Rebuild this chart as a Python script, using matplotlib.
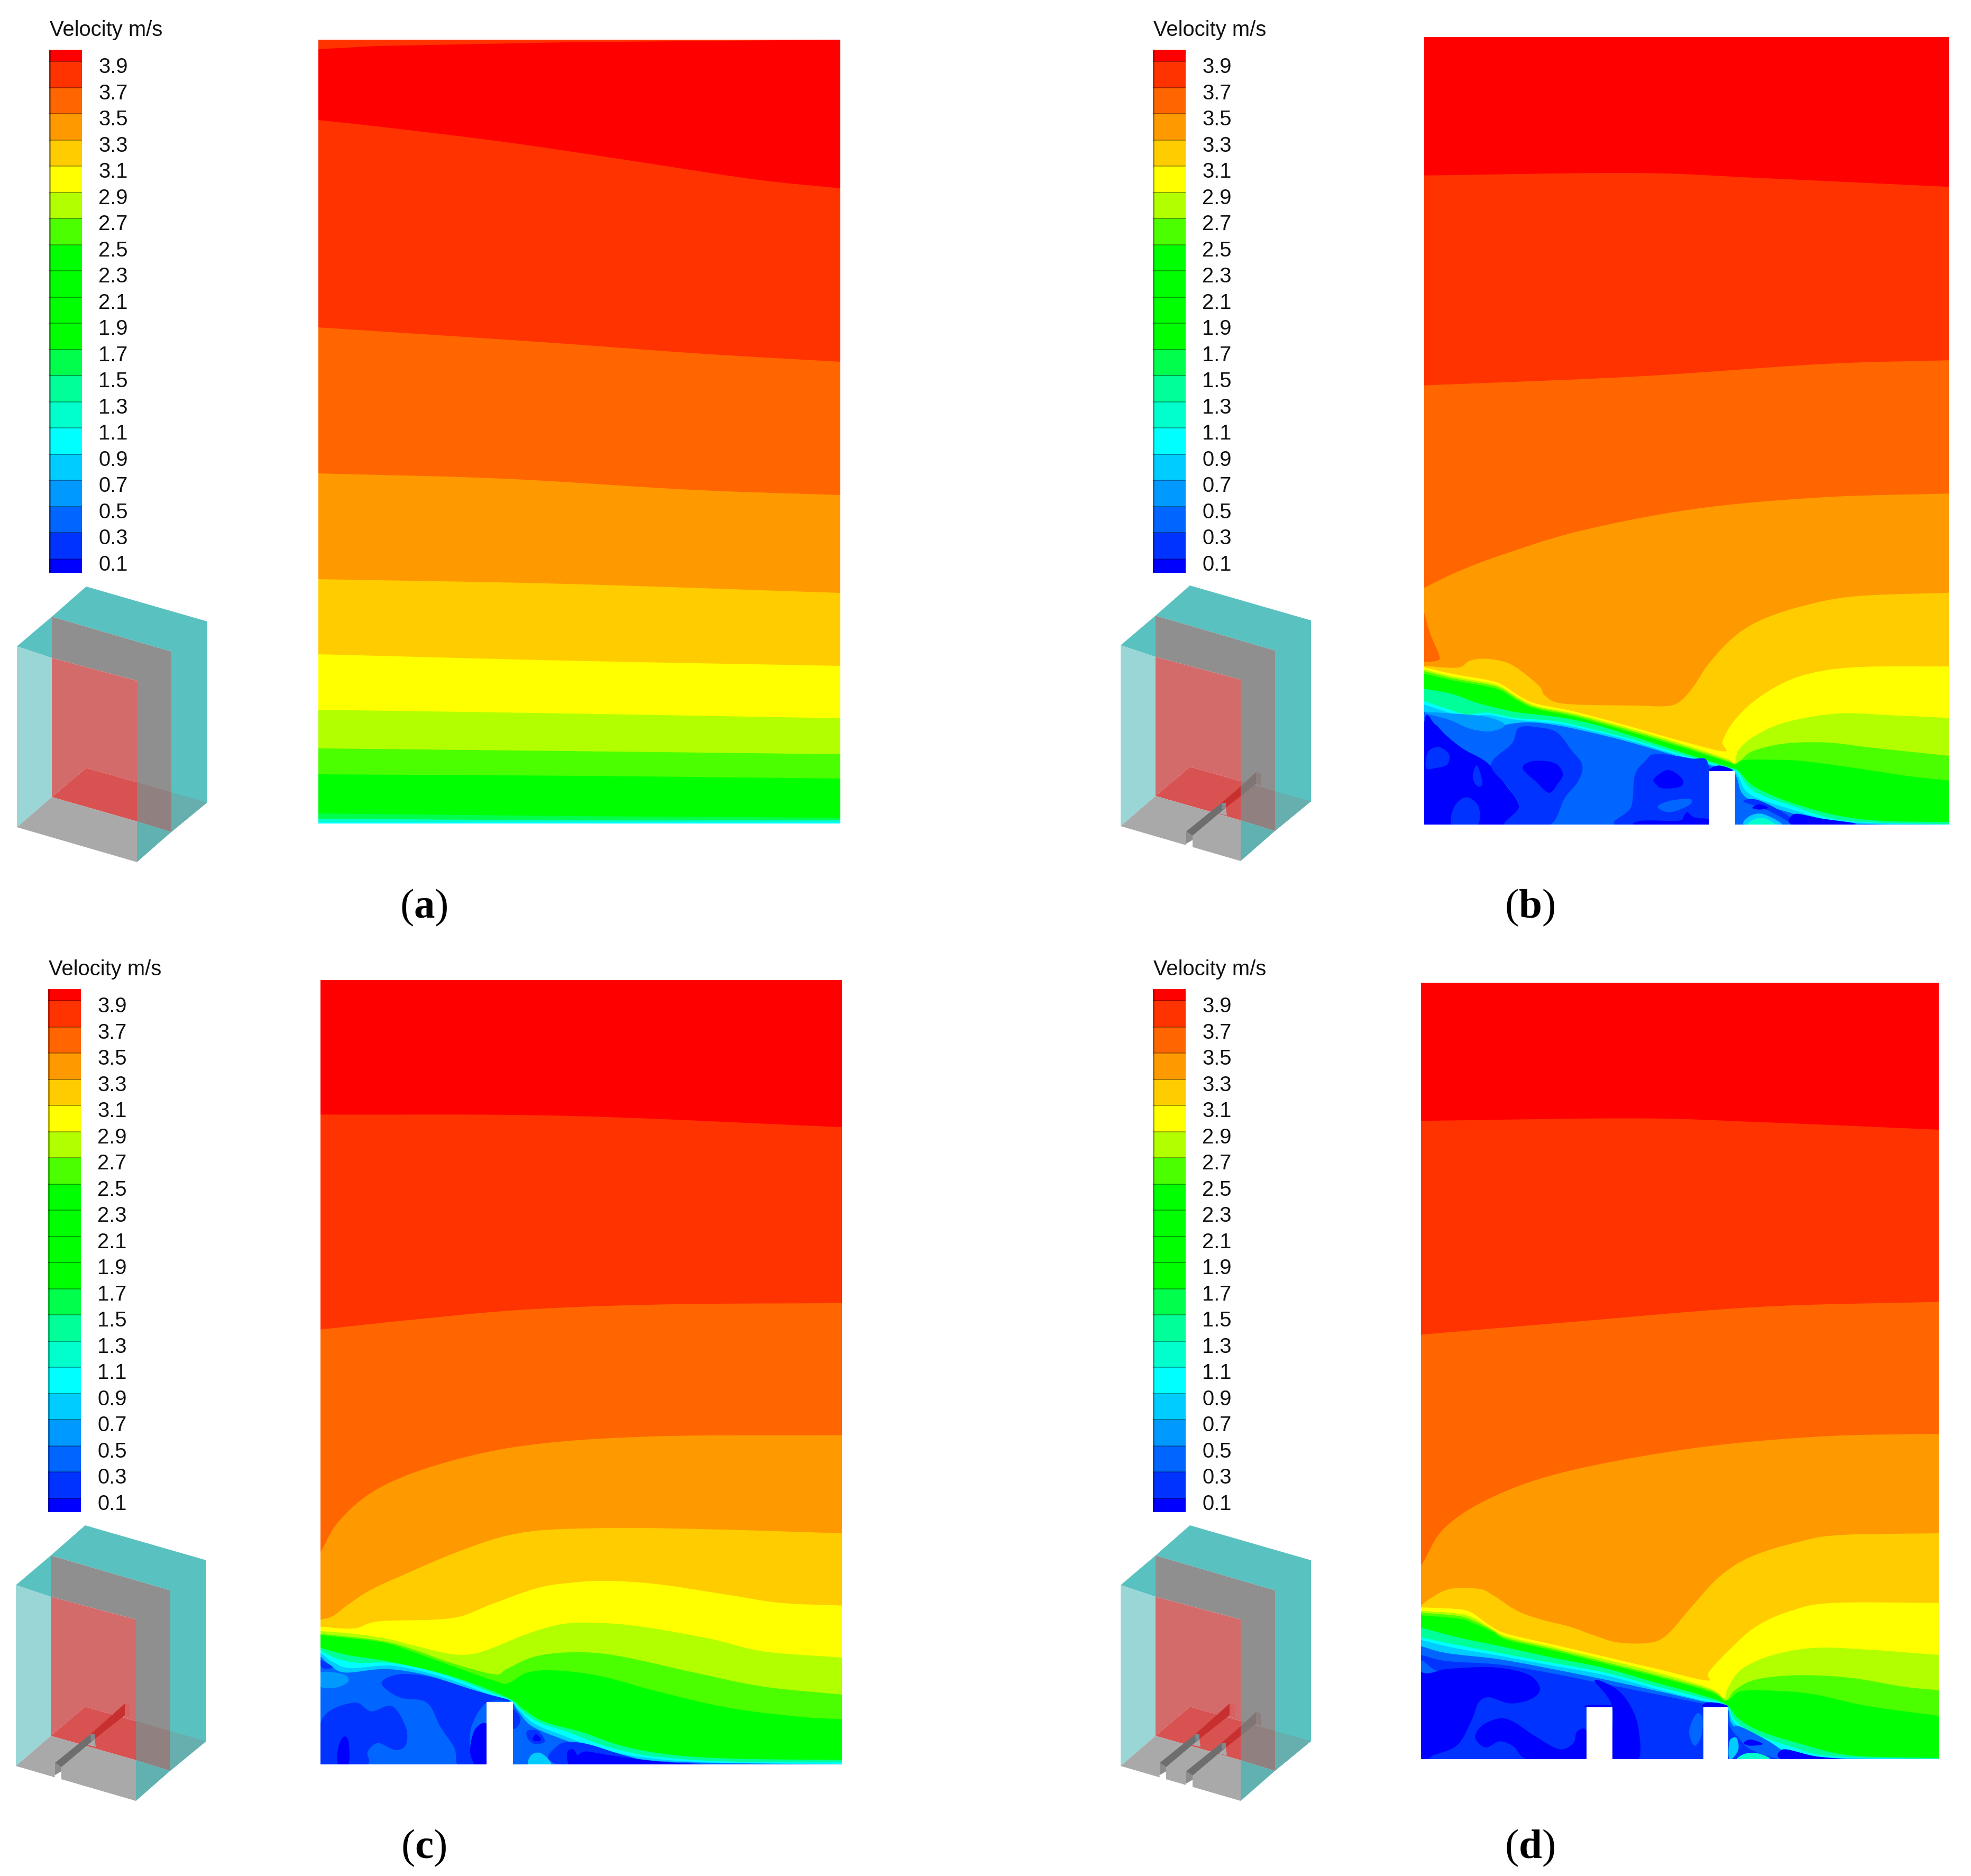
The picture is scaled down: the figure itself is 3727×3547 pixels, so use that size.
import numpy as np
import matplotlib
matplotlib.use("Agg")
import matplotlib.pyplot as plt
from matplotlib.patches import Rectangle

W, H = 3727, 3548
SHRINK = 3727 / 1568

plt.rcParams["font.family"] = ["Liberation Sans", "DejaVu Sans"]
plt.rcParams["mathtext.fontset"] = "custom"
plt.rcParams["mathtext.rm"] = "Liberation Serif"
plt.rcParams["mathtext.bf"] = "Liberation Serif:bold"

# legend
LEVELS = [3.9, 3.7, 3.5, 3.3, 3.1, 2.9, 2.7, 2.5, 2.3, 2.1, 1.9, 1.7, 1.5, 1.3, 1.1, 0.9, 0.7, 0.5, 0.3, 0.1]
V_TOP = 3.989
V_BOT = -0.007
BAND_COLORS = ["#FF0000", "#FF3300", "#FF6600", "#FF9900", "#FFCC00", "#FFFF00", "#B2FF00", "#4CFF00",
               "#00FF00", "#00FF00", "#00FF00", "#00FF00", "#00FF4C", "#00FF99", "#00FFCC", "#00FFFF",
               "#00CCFF", "#0099FF", "#0066FF", "#0033FF", "#0000FF"]

C39, C37, C35, C33, C31, C29, C27, C25 = BAND_COLORS[1:9]
C17, C15, C13, C11, C09, C07, C05, C03, C01 = BAND_COLORS[12:]

# panel (a): contour lines in full px
A_TOP = [(602, 76), (602, 94), (713, 88), (1070, 81), (1589, 76)]
A_39 = [(602, 228), (713, 240), (951, 269), (1188, 304), (1426, 340), (1589, 357)]
A_37 = [(602, 620), (832, 635), (1070, 651), (1331, 670), (1589, 685)]
A_35 = [(602, 896), (951, 906), (1307, 927), (1589, 937)]
A_33 = [(602, 1096), (1070, 1105), (1589, 1122)]
A_31 = [(602, 1238), (1070, 1250), (1589, 1260)]
A_29 = [(602, 1343), (1070, 1350), (1589, 1359)]
A_27 = [(602, 1416), (1070, 1421), (1589, 1427)]
A_25 = [(602, 1465), (1100, 1468), (1589, 1473)]
A_17 = [(602, 1539), (1100, 1544), (1589, 1547)]
A_13 = [(602, 1549), (1100, 1552), (1589, 1552)]
A_11 = [(602, 1555), (1589, 1555)]

# panel (b): upper lines in shrunk-picture px, lower lines in crop px
B_39 = [(1133, 140), (1300, 138), (1400, 142), (1550, 149)]
B_37 = [(1133, 307), (1300, 300), (1450, 290), (1550, 287)]
B_35 = [(1133, 468), (1160, 455), (1200, 440), (1260, 422), (1350, 405), (1450, 396), (1550, 393)]
B_LOBE = [(1133, 488), (1138, 505), (1145, 522), (1143, 526), (1133, 527)]
B_33 = [(20, 480), (115, 490), (150, 450), (200, 440), (260, 465), (310, 530), (350, 600), (365, 650), (420, 695),
        (620, 705), (710, 708), (750, 680), (790, 590), (830, 470), (900, 320), (980, 220), (1100, 140), (1250, 85), (1515, 65)]
B_31 = [(20, 488), (100, 525), (200, 560), (240, 585), (290, 650), (340, 695), (450, 740), (600, 820), (750, 905),
        (875, 965), (870, 910), (900, 800), (960, 680), (1050, 570), (1150, 510), (1280, 485), (1515, 483)]
B_29 = [(20, 500), (100, 540), (200, 575), (240, 600), (290, 662), (340, 708), (450, 752), (600, 832), (750, 920),
        (880, 1005), (905, 1030), (915, 960), (960, 880), (1050, 800), (1200, 750), (1350, 760), (1515, 775)]
B_27 = [(20, 510), (100, 550), (200, 585), (240, 610), (290, 672), (340, 716), (450, 760), (600, 842), (750, 930),
        (880, 1015), (905, 1035), (925, 1010), (960, 960), (1050, 920), (1170, 915), (1300, 945), (1515, 990)]
B_25 = [(20, 525), (100, 562), (200, 598), (240, 622), (290, 682), (340, 725), (450, 770), (600, 852), (750, 940),
        (880, 1022), (905, 1040), (930, 1015), (1000, 1012), (1100, 1020), (1250, 1060), (1400, 1105), (1515, 1130)]
B_17 = [(20, 610), (100, 640), (170, 690), (230, 720), (290, 745), (400, 770), (500, 810), (600, 870), (700, 935),
        (800, 1000), (890, 1055), (915, 1075), (950, 1150), (1000, 1205), (1080, 1265), (1200, 1330), (1330, 1360), (1515, 1365)]
B_11 = [(20, 680), (80, 720), (140, 755), (200, 745), (280, 775), (400, 795), (500, 840), (600, 890), (700, 950),
        (800, 1010), (890, 1062), (915, 1085), (945, 1170), (990, 1220), (1070, 1275), (1180, 1345), (1300, 1368), (1515, 1378)]
B_09 = [(20, 700), (90, 745), (140, 768), (200, 758), (280, 785), (400, 808), (500, 850), (600, 900), (700, 960),
        (800, 1020), (890, 1065), (912, 1095), (935, 1185), (975, 1235), (1060, 1290), (1170, 1352), (1300, 1372), (1515, 1380)]
B_07 = [(20, 740), (90, 780), (150, 835), (210, 850), (250, 815), (320, 800), (400, 818), (500, 860), (600, 910), (700, 968),
        (800, 1028), (890, 1072), (910, 1110), (925, 1200), (960, 1250), (1050, 1305), (1150, 1360), (1300, 1378), (1515, 1382)]
B_BLOBS = [
    ([(20, 745), (90, 785), (150, 835), (210, 850), (250, 815), (200, 770), (100, 750)], C07),
    ([(20, 800), (50, 810), (80, 870), (130, 950), (200, 1030), (250, 1150), (290, 1280), (250, 1385), (20, 1385)], C01),
    ([(25, 1060), (30, 970), (60, 940), (90, 980), (85, 1040), (50, 1060)], C03),
    ([(100, 1385), (105, 1280), (140, 1225), (175, 1280), (170, 1385)], C03),
    ([(158, 1100), (170, 1045), (185, 1130), (180, 1165), (165, 1150)], C03),
    ([(290, 830), (350, 830), (400, 860), (440, 960), (470, 1040), (460, 1130), (420, 1230), (375, 1385), (250, 1385),
      (290, 1280), (260, 1170), (210, 1040), (270, 920)], C03),
    ([(300, 1060), (330, 1020), (390, 1030), (415, 1090), (400, 1150), (375, 1200), (340, 1140)], C01),
    ([(680, 980), (780, 1005), (830, 1040), (830, 1385), (570, 1385), (610, 1280), (620, 1100), (650, 1020)], C03),
    ([(675, 1120), (715, 1070), (755, 1120), (750, 1165), (700, 1175), (680, 1150)], C01),
    ([(685, 1280), (720, 1245), (778, 1235), (775, 1270), (720, 1310)], C05),
    ([(630, 1385), (640, 1358), (745, 1358), (760, 1330), (770, 1310), (790, 1340), (830, 1350), (830, 1385)], C01),
    ([(832, 1070), (860, 1045), (900, 1072), (860, 1082)], C01),
    ([(930, 1250), (970, 1240), (1050, 1320), (1080, 1385), (1000, 1300)], C03),
    ([(955, 1285), (975, 1265), (1000, 1285), (975, 1295)], C01),
    ([(1075, 1320), (1150, 1345), (1250, 1378), (1075, 1385)], C01),
    ([(935, 1385), (945, 1335), (985, 1320), (1040, 1385)], C09),
    ([(945, 1385), (960, 1350), (990, 1345), (1020, 1385)], C13),
]
B_RIBS = [(832, 906)]
B_RIB_TOP = 1078

# panel (c)
C_39 = [(255, 887), (450, 888), (670, 897)]
C_37 = [(255, 1058), (330, 1050), (420, 1042), (530, 1038), (670, 1037)]
C_35 = [(255, 1235), (270, 1210), (300, 1185), (350, 1165), (420, 1150), (520, 1143), (670, 1142)]
C_33 = [(25, 490), (60, 470), (100, 410), (170, 320), (270, 230), (400, 120), (520, 35), (600, -2), (680, -20), (800, -28),
        (950, -30), (1200, -20), (1525, 0)]
C_31 = [(25, 530), (120, 540), (190, 500), (350, 490), (430, 470), (520, 400), (650, 310), (750, 280), (850, 270),
        (1000, 290), (1200, 350), (1350, 395), (1525, 410)]
C_29 = [(25, 555), (120, 570), (220, 600), (300, 640), (400, 685), (460, 685), (520, 650), (620, 570), (720, 515),
        (820, 508), (950, 530), (1150, 600), (1300, 670), (1525, 705)]
C_27 = [(25, 570), (200, 610), (300, 665), (400, 735), (525, 800), (560, 770), (640, 700), (750, 675), (880, 695),
        (1100, 790), (1300, 870), (1525, 915)]
C_25 = [(25, 578), (200, 618), (300, 680), (420, 765), (530, 840), (565, 850), (620, 790), (700, 778), (830, 810),
        (1000, 900), (1200, 990), (1400, 1040), (1525, 1055)]
C_17 = [(25, 650), (100, 690), (200, 720), (300, 760), (400, 810), (500, 880), (575, 945), (610, 1000), (670, 1070),
        (780, 1130), (900, 1210), (1050, 1260), (1250, 1280), (1525, 1285)]
C_11 = [(25, 665), (70, 710), (130, 735), (220, 735), (320, 770), (420, 830), (510, 900), (575, 950), (600, 1000),
        (650, 1070), (740, 1130), (850, 1210), (980, 1265), (1200, 1295), (1525, 1300)]
C_09 = [(25, 680), (60, 730), (110, 765), (220, 750), (320, 785), (420, 845), (500, 905), (570, 950), (595, 1000),
        (640, 1080), (720, 1145), (820, 1215), (950, 1270), (1150, 1300), (1525, 1308)]
C_07 = [(25, 700), (50, 745), (95, 790), (210, 770), (320, 800), (420, 860), (500, 915), (570, 955), (590, 1000),
        (630, 1090), (710, 1160), (810, 1225), (940, 1280), (1100, 1300), (1525, 1312)]
C_BLOBS = [
    ([(200, 850), (250, 800), (340, 815), (450, 880), (510, 915), (570, 950), (503, 960), (460, 1090), (455, 1230),
      (470, 1315), (420, 1315), (410, 1220), (370, 1100), (330, 960), (250, 930)], C03),
    ([(30, 1050), (120, 960), (170, 1010), (230, 980), (270, 1100), (270, 1200), (240, 1230), (190, 1190), (160, 1240),
      (155, 1315), (25, 1315)], C03),
    ([(75, 1315), (75, 1220), (90, 1155), (105, 1180), (105, 1315)], C01),
    ([(505, 1090), (470, 1110), (455, 1230), (470, 1315), (503, 1315)], C01),
    ([(25, 790), (90, 800), (105, 840), (70, 875), (25, 870)], C07),
    ([(25, 720), (60, 760), (30, 765)], C03),
    ([(578, 1000), (600, 1050), (590, 1100), (578, 1100)], C03),
    ([(620, 1120), (650, 1120), (670, 1180), (640, 1195), (620, 1160)], C03),
    ([(635, 1170), (645, 1140), (660, 1170), (645, 1180)], C01),
    ([(710, 1200), (780, 1190), (900, 1260), (1000, 1300), (1200, 1315), (720, 1315)], C03),
    ([(625, 1315), (630, 1260), (655, 1245), (680, 1280), (685, 1315)], C09),
    ([(740, 1315), (735, 1240), (755, 1230), (770, 1315)], C01),
    ([(780, 1240), (860, 1260), (1000, 1295), (1150, 1315), (790, 1315)], C01),
]
C_RIBS = [(503, 578)]
C_RIB_TOP = 958

# panel (d)
D_39 = [(1131, 892), (1300, 890), (1400, 893), (1542, 899)]
D_37 = [(1131, 1062), (1250, 1052), (1400, 1040), (1542, 1036)]
D_35 = [(1131, 1245), (1150, 1215), (1190, 1190), (1250, 1170), (1350, 1152), (1450, 1143), (1542, 1141)]
D_33 = [(25, 410), (60, 360), (110, 315), (190, 315), (230, 350), (300, 440), (370, 490), (450, 530), (520, 580),
        (590, 620), (680, 620), (730, 570), (800, 410), (880, 240), (970, 130), (1100, 50), (1220, 10), (1500, 0)]
D_31 = [(25, 420), (130, 430), (170, 450), (220, 520), (270, 570), (400, 630), (550, 700), (700, 770), (840, 835),
        (845, 790), (900, 670), (980, 530), (1080, 440), (1200, 395), (1500, 395)]
D_29 = [(25, 440), (130, 455), (175, 480), (225, 540), (270, 585), (400, 645), (550, 715), (700, 790), (850, 880),
        (890, 935), (900, 880), (940, 770), (1030, 690), (1150, 650), (1300, 660), (1500, 690)]
D_27 = [(25, 450), (135, 470), (180, 500), (230, 550), (270, 595), (400, 655), (550, 730), (700, 805), (850, 890),
        (895, 945), (920, 890), (980, 830), (1100, 805), (1250, 820), (1400, 870), (1500, 890)]
D_25 = [(25, 465), (135, 485), (180, 515), (230, 560), (270, 605), (400, 665), (550, 740), (700, 815), (850, 900),
        (895, 950), (940, 895), (1050, 895), (1150, 915), (1300, 980), (1500, 1035)]
D_17 = [(25, 535), (130, 590), (250, 640), (400, 705), (550, 765), (700, 850), (820, 915), (895, 970), (930, 1050),
        (990, 1120), (1100, 1190), (1250, 1260), (1500, 1275)]
D_11 = [(25, 590), (120, 630), (250, 680), (400, 735), (550, 790), (700, 870), (820, 930), (895, 975), (920, 1060),
        (970, 1130), (1080, 1210), (1200, 1265), (1500, 1280)]
D_09 = [(25, 605), (120, 650), (250, 695), (400, 750), (550, 805), (700, 885), (820, 945), (895, 980), (915, 1065),
        (960, 1140), (1060, 1225), (1180, 1270), (1500, 1282)]
D_07 = [(25, 640), (100, 680), (250, 715), (400, 770), (550, 830), (700, 895), (820, 950), (895, 985), (910, 1075),
        (950, 1150), (1040, 1240), (1150, 1275), (1300, 1282), (1500, 1284)]
D_05 = [(25, 690), (100, 725), (250, 745), (400, 795), (550, 855), (700, 915), (820, 962), (895, 988), (905, 1090),
        (940, 1170), (1030, 1250), (1150, 1280), (1500, 1290)]
D_BLOBS = [
    ([(25, 790), (60, 790), (100, 770), (230, 760), (330, 800), (365, 880), (340, 940), (280, 965), (220, 930),
      (190, 960), (170, 1060), (130, 1200), (60, 1260), (25, 1285)], C01),
    ([(180, 1160), (200, 1090), (250, 1050), (290, 1070), (350, 1150), (420, 1225), (460, 1190), (470, 1125), (497, 1120),
      (497, 1285), (335, 1285), (290, 1210), (250, 1180), (210, 1215)], C01),
    ([(571, 985), (520, 835), (580, 880), (620, 970), (645, 1100), (645, 1285), (571, 1285)], C01),
    ([(25, 720), (60, 770), (70, 780), (45, 795), (25, 780)], C05),
    ([(497, 985), (500, 975), (560, 975), (571, 985)], C01),
    ([(830, 985), (840, 960), (880, 965), (900, 985)], C01),
    ([(800, 1060), (815, 1020), (828, 1050), (825, 1150), (805, 1205), (790, 1130)], C05),
    ([(920, 1110), (940, 1100), (1040, 1210), (1060, 1285), (960, 1220)], C05),
    ([(945, 1190), (965, 1170), (1000, 1195), (965, 1205)], C01),
    ([(1060, 1225), (1150, 1265), (1250, 1285), (1060, 1285)], C01),
    ([(905, 1180), (925, 1160), (930, 1230), (905, 1285)], C09),
    ([(930, 1285), (950, 1250), (990, 1250), (1020, 1285)], C13),
]
D_RIBS = [(497, 571), (830, 901)]
D_RIB_TOP = 988

# cube outline in px of the upper-left cube
CUBE_FACES = [
    ([(98, 1167), (163, 1110), (392, 1176), (392, 1518), (324, 1574), (324, 1233)], "#5AC1C1"),
    ([(32, 1223), (98, 1167), (98, 1245)], "#5AC1C1"),
    ([(32, 1223), (98, 1245), (98, 1508), (32, 1565)], "#9BD6D6"),
    ([(98, 1167), (324, 1233), (324, 1574), (259, 1554), (259, 1288), (98, 1245)], "#8F8F8F"),
    ([(98, 1245), (259, 1288), (259, 1480), (163, 1453), (98, 1508)], "#D46B6B"),
    ([(98, 1508), (163, 1453), (259, 1480), (259, 1554)], "#D85252"),
    ([(259, 1480), (324, 1499), (324, 1574), (259, 1554)], "#918080"),
    ([(324, 1499), (392, 1518), (324, 1574)], "#67AFAF"),
    ([(32, 1565), (98, 1508), (259, 1554), (259, 1631)], "#A9A9A9"),
    ([(259, 1554), (324, 1574), (259, 1631)], "#62B1B1"),
]
NEAR_RIB = (106, 1582)
FAR_RIB = (156, 1598)


def catmull(pts, closed=False, n=14):
    p = np.asarray(pts, dtype=float)
    if closed:
        q = np.vstack([p[-1], p, p[0], p[1]])
    else:
        q = np.vstack([2 * p[0] - p[1], p, 2 * p[-1] - p[-2]])
    out = []
    for i in range(1, len(q) - 2):
        p0, p1, p2, p3 = q[i - 1], q[i], q[i + 1], q[i + 2]
        for t in np.linspace(0, 1, n, endpoint=False):
            out.append(0.5 * (2 * p1 + (p2 - p0) * t + (2 * p0 - 5 * p1 + 4 * p2 - p3) * t ** 2
                              + (3 * p1 - p0 - 3 * p2 + p3) * t ** 3))
    if not closed:
        out.append(q[-2])
    return np.array(out)


def shrunk(pts):
    return [(x * SHRINK, y * SHRINK) for x, y in pts]


def crop_frame(x0, y0, sx, sy=3.0):
    return lambda pts: [(x0 + x / sx, y0 + y / sy) for x, y in pts]


def panel_axes(ext):
    x0, x1, y0, y1 = ext
    ax = fig.add_axes([x0 / W, 1 - y1 / H, (x1 - x0) / W, (y1 - y0) / H])
    ax.set_xlim(x0, x1)
    ax.set_ylim(y1, y0)
    ax.axis("off")
    return ax


def draw_panel(ext, lines, blobs=(), ribs=(), rib_top=None):
    ax = panel_axes(ext)
    x0, x1, y0, y1 = ext
    ax.add_patch(Rectangle((x0, y0), x1 - x0, y1 - y0, fc="#FF0000", ec="none"))
    for pts, col in lines:
        c = catmull(pts)
        # extend to the panel sides so no corner stays uncovered
        c = np.vstack([[x0 - 5, c[0, 1]], c, [x1 + 5, c[-1, 1]], [x1 + 5, y1 + 5], [x0 - 5, y1 + 5]])
        ax.fill(c[:, 0], c[:, 1], color=col, lw=0)
    for pts, col in blobs:
        c = catmull(pts, closed=True, n=8)
        ax.fill(c[:, 0], c[:, 1], color=col, lw=0)
    for rx0, rx1 in ribs:
        ax.add_patch(Rectangle((rx0, rib_top), rx1 - rx0, y1 - rib_top + 5, fc="white", ec="none", zorder=5))
    return ax


def draw_legend(dx, dy):
    ax = fig.add_axes([(93 + dx) / W, 1 - (1084 + dy) / H, 62 / W, 989 / H])
    edges = [V_TOP] + LEVELS + [V_BOT]
    for i, col in enumerate(BAND_COLORS):
        ax.bar(0.5, edges[i] - edges[i + 1], bottom=edges[i + 1], width=1, color=col, lw=0)
    ax.hlines(LEVELS, 0, 1, color="black", alpha=0.35, lw=1.4)
    ax.vlines(0.01, V_BOT, V_TOP, color="black", alpha=0.35, lw=2)
    ax.set_xlim(0, 1)
    ax.set_ylim(V_BOT, V_TOP)
    ax.axis("off")
    for v in LEVELS:
        ax.annotate(f"{v:.1f}", (1, v), xytext=(22.5, -7.2), textcoords="offset points",
                    fontsize=28.8, color="#111111", va="center", ha="left", annotation_clip=False)
    ax.annotate("Velocity m/s", (0, V_TOP), xytext=(1, 27.5), textcoords="offset points",
                fontsize=28.8, color="#111111", va="center", ha="left", annotation_clip=False)


def rib_polys(p, grey_until):
    x, y = p
    rel = lambda pts: [(x + a, y + b) for a, b in pts]
    out = [
        (rel([(0, 0), (12, -7), (12, 4), (0, 6)]), "white"),
        (rel([(-1, 2), (12, 12), (12, 4), (0, 0)]), "white"),
        (rel([(57, -58), (70, -68), (75, -68), (77, -53)]), "#A9A9A9"),
        (rel([(0, -23), (67, -77), (75, -68), (12, -15)]), "#6E6E6E"),
        (rel([(0, 0), (0, -23), (12, -15), (12, -7)]), "#8C8C8C"),
    ]
    if grey_until:
        out += [
            (rel([(67, -77), (103, -108), (103, -90), (75, -68)]), "#C83030"),
            (rel([(103, -108), (132, -135), (132, -113), (103, -90)]), "#807575"),
            (rel([(132, -135), (142, -132), (142, -108), (132, -113)]), "#8F8080"),
        ]
    else:
        out += [
            (rel([(67, -77), (132, -135), (132, -113), (75, -68)]), "#C83030"),
            (rel([(132, -135), (142, -132), (142, -108), (132, -113)]), "#D86060"),
        ]
    out.append((rel([(67, -77), (75, -77), (75, -68), (68, -64)]), "#7F8A8F"))
    return out


def draw_cube(dx, dy, ribs):
    for pts, col in CUBE_FACES:
        a = np.array(pts) + (dx, dy)
        overlay.fill(a[:, 0], a[:, 1], color=col, lw=0)
    for p, far in ribs:
        for pts, col in rib_polys(p, far):
            a = np.array(pts) + (dx, dy)
            overlay.fill(a[:, 0], a[:, 1], color=col, lw=0)


fig = plt.figure(figsize=(W / 100, H / 100), dpi=100)
overlay = fig.add_axes([0, 0, 1, 1])
overlay.set_xlim(0, W)
overlay.set_ylim(H, 0)
overlay.axis("off")

# (a)
draw_panel((602, 1589, 76, 1558),
           [(A_39, C39), (A_37, C37), (A_35, C35), (A_33, C33), (A_31, C31), (A_29, C29), (A_27, C27), (A_25, C25),
            (A_17, C17), (A_13, C13), (A_11, C11)]).fill(*zip(*A_TOP), color=C39, lw=0)

# (b)
fb = crop_frame(2680, 1100, 1568 / 1040)
ax_b = draw_panel((2693, 3685, 71, 1560),
                  [(shrunk(B_39), C39), (shrunk(B_37), C37), (shrunk(B_35), C35), (fb(B_33), C33), (fb(B_31), C31),
                   (fb(B_29), C29), (fb(B_27), C27), (fb(B_25), C25), (fb(B_17), C15), (fb(B_11), C11),
                   (fb(B_09), C09), (fb(B_07), C05)],
                  [(fb(p), c) for p, c in B_BLOBS],
                  [(x * 1040 / 1568 + 2680, y * 1040 / 1568 + 2680) for x, y in B_RIBS], 1100 + B_RIB_TOP / 3)
lobe = catmull(shrunk(B_LOBE))
ax_b.fill(lobe[:, 0], lobe[:, 1], color=C37, lw=0)

# (c)
fc = crop_frame(590, 2900, 1568 / 1030)
draw_panel((606, 1592, 1854, 3337),
           [(shrunk(C_39), C39), (shrunk(C_37), C37), (shrunk(C_35), C35), (fc(C_33), C33), (fc(C_31), C31),
            (fc(C_29), C29), (fc(C_27), C27), (fc(C_25), C25), (fc(C_17), C15), (fc(C_11), C11), (fc(C_09), C09),
            (fc(C_07), C05)],
           [(fc(p), c) for p, c in C_BLOBS],
           [(x * 1030 / 1568 + 590, y * 1030 / 1568 + 590) for x, y in C_RIBS], 2900 + C_RIB_TOP / 3)

# (d)
fd = crop_frame(2670, 2900, 1568 / 1040)
draw_panel((2687, 3666, 1859, 3327),
           [(shrunk(D_39), C39), (shrunk(D_37), C37), (shrunk(D_35), C35), (fd(D_33), C33), (fd(D_31), C31),
            (fd(D_29), C29), (fd(D_27), C27), (fd(D_25), C25), (fd(D_17), C15), (fd(D_11), C11), (fd(D_09), C09),
            (fd(D_07), C05), (fd(D_05), C03)],
           [(fd(p), c) for p, c in D_BLOBS],
           [(x * 1040 / 1568 + 2670, y * 1040 / 1568 + 2670) for x, y in D_RIBS], 2900 + D_RIB_TOP / 3)

draw_legend(0, 0)
draw_legend(2087, 0)
draw_legend(-2, 1776)
draw_legend(2087, 1776)

draw_cube(0, 0, [])
draw_cube(2087, -2, [(FAR_RIB, True)])
draw_cube(-2, 1775, [(NEAR_RIB, False)])
draw_cube(2087, 1775, [(NEAR_RIB, False), (FAR_RIB, True)])

for lab, x, y in [("a", 337, 722), ("b", 1217, 722), ("c", 337, 1470), ("d", 1217, 1470)]:
    overlay.text(x * SHRINK, y * SHRINK, "($\\mathbf{" + lab + "}$)", fontsize=57, family="Liberation Serif",
                 ha="center", va="center", color="black")

fig.savefig("out.png", dpi=100)
